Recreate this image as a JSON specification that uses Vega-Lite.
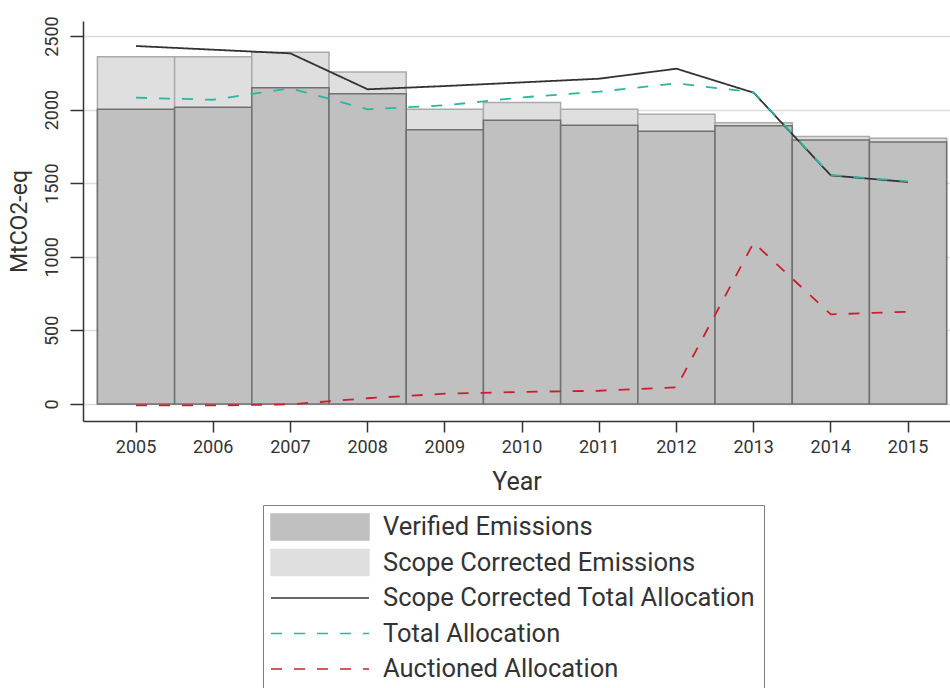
{
  "$schema": "https://vega.github.io/schema/vega-lite/v6.json",
  "autosize": {"type": "none"},
  "padding": {"left": 83, "top": 21, "right": 0, "bottom": 267},
  "width": 867,
  "height": 400,
  "background": "white",
  "config": {
    "view": {"stroke": null},
    "font": "Roboto",
    "axis": {"labelFont": "Roboto", "titleFont": "Roboto", "labelColor": "#333333", "titleColor": "#333333", "domainColor": "#333333", "tickColor": "#333333", "domainWidth": 1.5, "tickWidth": 1.5, "titleFontWeight": "normal"}
  },
  "data": {
    "values": [
      {"year": 2005, "series": "Scope Corrected Emissions", "value": 2359},
      {"year": 2006, "series": "Scope Corrected Emissions", "value": 2359},
      {"year": 2007, "series": "Scope Corrected Emissions", "value": 2389},
      {"year": 2008, "series": "Scope Corrected Emissions", "value": 2255},
      {"year": 2009, "series": "Scope Corrected Emissions", "value": 2002},
      {"year": 2010, "series": "Scope Corrected Emissions", "value": 2049},
      {"year": 2011, "series": "Scope Corrected Emissions", "value": 2002},
      {"year": 2012, "series": "Scope Corrected Emissions", "value": 1968},
      {"year": 2013, "series": "Scope Corrected Emissions", "value": 1911},
      {"year": 2014, "series": "Scope Corrected Emissions", "value": 1818},
      {"year": 2015, "series": "Scope Corrected Emissions", "value": 1805},
      {"year": 2005, "series": "Verified Emissions", "value": 2002},
      {"year": 2006, "series": "Verified Emissions", "value": 2016},
      {"year": 2007, "series": "Verified Emissions", "value": 2149},
      {"year": 2008, "series": "Verified Emissions", "value": 2108},
      {"year": 2009, "series": "Verified Emissions", "value": 1864},
      {"year": 2010, "series": "Verified Emissions", "value": 1927},
      {"year": 2011, "series": "Verified Emissions", "value": 1893},
      {"year": 2012, "series": "Verified Emissions", "value": 1853},
      {"year": 2013, "series": "Verified Emissions", "value": 1891},
      {"year": 2014, "series": "Verified Emissions", "value": 1793},
      {"year": 2015, "series": "Verified Emissions", "value": 1780},
      {"year": 2005, "series": "Scope Corrected Total Allocation", "value": 2432},
      {"year": 2006, "series": "Scope Corrected Total Allocation", "value": 2407},
      {"year": 2007, "series": "Scope Corrected Total Allocation", "value": 2382},
      {"year": 2008, "series": "Scope Corrected Total Allocation", "value": 2138},
      {"year": 2009, "series": "Scope Corrected Total Allocation", "value": 2160},
      {"year": 2010, "series": "Scope Corrected Total Allocation", "value": 2185},
      {"year": 2011, "series": "Scope Corrected Total Allocation", "value": 2210},
      {"year": 2012, "series": "Scope Corrected Total Allocation", "value": 2278},
      {"year": 2013, "series": "Scope Corrected Total Allocation", "value": 2115},
      {"year": 2014, "series": "Scope Corrected Total Allocation", "value": 1553},
      {"year": 2015, "series": "Scope Corrected Total Allocation", "value": 1508},
      {"year": 2005, "series": "Total Allocation", "value": 2081},
      {"year": 2006, "series": "Total Allocation", "value": 2067},
      {"year": 2007, "series": "Total Allocation", "value": 2145},
      {"year": 2008, "series": "Total Allocation", "value": 2002},
      {"year": 2009, "series": "Total Allocation", "value": 2029},
      {"year": 2010, "series": "Total Allocation", "value": 2083},
      {"year": 2011, "series": "Total Allocation", "value": 2122},
      {"year": 2012, "series": "Total Allocation", "value": 2178},
      {"year": 2013, "series": "Total Allocation", "value": 2118},
      {"year": 2014, "series": "Total Allocation", "value": 1556},
      {"year": 2015, "series": "Total Allocation", "value": 1512},
      {"year": 2005, "series": "Auctioned Allocation", "value": -10},
      {"year": 2006, "series": "Auctioned Allocation", "value": -10},
      {"year": 2007, "series": "Auctioned Allocation", "value": -2},
      {"year": 2008, "series": "Auctioned Allocation", "value": 39},
      {"year": 2009, "series": "Auctioned Allocation", "value": 70},
      {"year": 2010, "series": "Auctioned Allocation", "value": 82},
      {"year": 2011, "series": "Auctioned Allocation", "value": 90},
      {"year": 2012, "series": "Auctioned Allocation", "value": 113},
      {"year": 2013, "series": "Auctioned Allocation", "value": 1096},
      {"year": 2014, "series": "Auctioned Allocation", "value": 609},
      {"year": 2015, "series": "Auctioned Allocation", "value": 627}
    ]
  },
  "encoding": {
    "x": {
      "field": "year", "type": "ordinal",
      "scale": {"paddingInner": 0, "paddingOuter": 0.1153, "align": 0.81},
      "axis": {"title": "Year", "labelAngle": 0, "labelFontSize": 18, "labelPadding": 6, "tickSize": 11, "titleFontSize": 25, "titleY": 68, "titleBaseline": "alphabetic", "grid": false}
    },
    "y": {
      "field": "value", "type": "quantitative",
      "scale": {"domain": [-115.5, 2602], "nice": false, "zero": false},
      "axis": {"title": "MtCO2-eq", "format": "d", "values": [0, 500, 1000, 1500, 2000, 2500], "labelAngle": -90, "labelAlign": "center", "labelBaseline": "alphabetic", "labelFontSize": 18, "labelPadding": 13, "tickSize": 13, "grid": true, "gridColor": "#dcdcdc", "gridWidth": 1.5, "titleFontSize": 23, "titleAngle": -90, "titleX": -57, "titleAlign": "center", "titleBaseline": "alphabetic"}
    }
  },
  "layer": [
    {
      "transform": [{"filter": "datum.series === 'Scope Corrected Emissions'"}],
      "mark": {"type": "bar", "fill": "#dfdfdf", "stroke": "#aaaaaa", "strokeWidth": 1.5},
      "encoding": {"y2": {"datum": 0}}
    },
    {
      "transform": [{"filter": "datum.series === 'Verified Emissions'"}],
      "mark": {"type": "bar", "fill": "#c0c0c0", "stroke": "#707070", "strokeWidth": 1.5},
      "encoding": {"y2": {"datum": 0}}
    },
    {
      "transform": [{"filter": "datum.series !== 'Scope Corrected Emissions' && datum.series !== 'Verified Emissions'"}],
      "mark": {"type": "line", "strokeWidth": 1.8},
      "encoding": {
        "stroke": {
          "field": "series", "type": "nominal",
          "scale": {
            "domain": ["Verified Emissions", "Scope Corrected Emissions", "Scope Corrected Total Allocation", "Total Allocation", "Auctioned Allocation"],
            "range": ["#c0c0c0", "#dfdfdf", "#333333", "#2ab7a0", "#c8202e"]
          },
          "legend": {
            "orient": "none", "legendX": 180, "legendY": 484, "title": null,
            "symbolSize": 676, "symbolStrokeWidth": 1.5, "labelOffset": 84, "rowPadding": 3.5, "gridAlign": "all", "padding": 8,
            "strokeColor": "#808080",
            "labelFont": "Roboto", "labelFontSize": 25.5, "labelColor": "#333333", "labelLimit": 600,
            "encode": {
              "legend": {"update": {"width": {"value": 518}}},
              "symbols": {
                "update": {
                  "shape": {"signal": "(datum.value === 'Verified Emissions' || datum.value === 'Scope Corrected Emissions') ? 'M-1.077,-1H6.46V1H-1.077Z' : 'M-1.077,0H6.46'"},
                  "fill": {"signal": "datum.value === 'Verified Emissions' ? '#c0c0c0' : (datum.value === 'Scope Corrected Emissions' ? '#dfdfdf' : 'transparent')"},
                  "stroke": {"signal": "datum.value === 'Scope Corrected Total Allocation' ? '#333333' : (datum.value === 'Total Allocation' ? '#2ab7a0' : (datum.value === 'Auctioned Allocation' ? '#c8202e' : 'transparent'))"},
                  "strokeDash": {"signal": "(datum.value === 'Total Allocation' || datum.value === 'Auctioned Allocation') ? [10, 15] : [1, 0]"},
                  "opacity": {"value": 1},
                  "fillOpacity": {"value": 1},
                  "strokeOpacity": {"value": 1}
                }
              }
            }
          }
        },
        "strokeDash": {
          "field": "series", "type": "nominal",
          "scale": {
            "domain": ["Verified Emissions", "Scope Corrected Emissions", "Scope Corrected Total Allocation", "Total Allocation", "Auctioned Allocation"],
            "range": [[1, 0], [1, 0], [1, 0], [11, 12], [11, 12]]
          },
          "legend": null
        }
      }
    }
  ]
}
